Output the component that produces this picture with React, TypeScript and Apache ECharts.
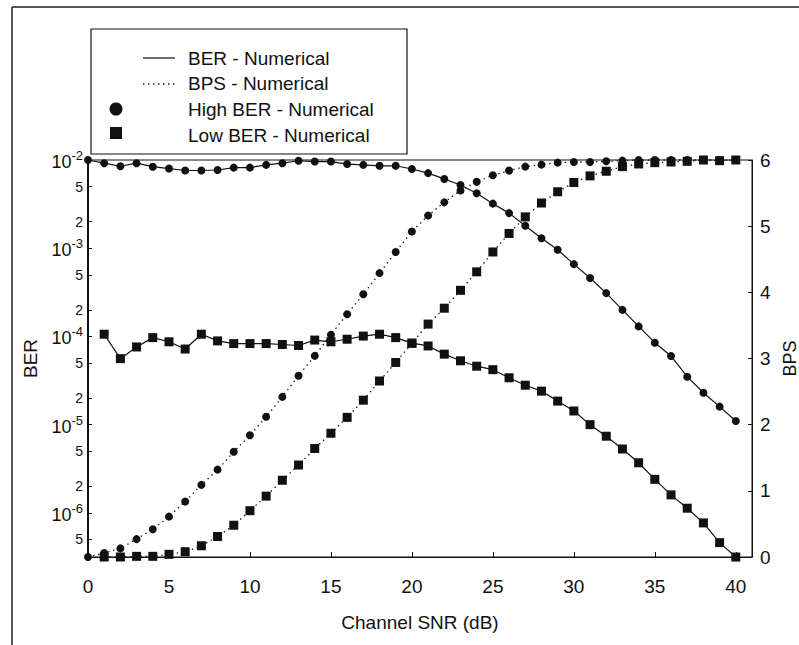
import { useEffect, useRef } from "react";
import * as echarts from "echarts";

// Channel SNR (dB)
const snrHigh = [0, 1, 2, 3, 4, 5, 6, 7, 8, 9, 10, 11, 12, 13, 14, 15, 16, 17, 18, 19, 20, 21, 22, 23, 24, 25, 26, 27, 28, 29, 30, 31, 32, 33, 34, 35, 36, 37, 38, 39, 40];
const snrLow = [1, 2, 3, 4, 5, 6, 7, 8, 9, 10, 11, 12, 13, 14, 15, 16, 17, 18, 19, 20, 21, 22, 23, 24, 25, 26, 27, 28, 29, 30, 31, 32, 33, 34, 35, 36, 37, 38, 39, 40];

// BER, High BER target (circles, solid)
const highBer = [
  1.0e-2, 9.2e-3, 8.5e-3, 9.2e-3, 8.4e-3, 8.0e-3, 7.6e-3, 7.6e-3, 7.7e-3, 8.2e-3,
  8.2e-3, 8.8e-3, 9.2e-3, 9.8e-3, 9.6e-3, 9.6e-3, 9.0e-3, 8.8e-3, 8.6e-3, 8.6e-3,
  7.9e-3, 7.1e-3, 6.1e-3, 5.2e-3, 4.2e-3, 3.2e-3, 2.5e-3, 1.8e-3, 1.3e-3, 9.6e-4,
  6.6e-4, 4.6e-4, 3.1e-4, 2.0e-4, 1.3e-4, 8.5e-5, 6.0e-5, 3.5e-5, 2.3e-5, 1.6e-5,
  1.1e-5,
];
// BER, Low BER target (squares, solid)
const lowBer = [
  1.06e-4, 5.6e-5, 7.6e-5, 9.7e-5, 8.7e-5, 7.2e-5, 1.06e-4, 8.9e-5, 8.3e-5, 8.3e-5,
  8.3e-5, 8.1e-5, 7.9e-5, 9.1e-5, 8.7e-5, 9.3e-5, 1.01e-4, 1.06e-4, 9.7e-5, 8.4e-5,
  7.8e-5, 6.3e-5, 5.3e-5, 4.6e-5, 4.2e-5, 3.4e-5, 2.8e-5, 2.4e-5, 1.85e-5, 1.43e-5,
  1.0e-5, 7.4e-6, 5.3e-6, 3.7e-6, 2.4e-6, 1.6e-6, 1.13e-6, 7.7e-7, 4.6e-7, 3.16e-7,
];
// BPS, High BER target (circles, dotted)
const highBps = [
  0, 0.06, 0.13, 0.27, 0.42, 0.61, 0.84, 1.09, 1.32, 1.59,
  1.84, 2.12, 2.42, 2.74, 3.04, 3.36, 3.67, 3.97, 4.29, 4.61,
  4.92, 5.16, 5.36, 5.54, 5.67, 5.77, 5.84, 5.9, 5.93, 5.96,
  5.97, 5.97, 5.98, 5.99, 6, 6, 6, 6, 6, 6, 6,
];
// BPS, Low BER target (squares, dotted)
const lowBps = [
  0, 0, 0.01, 0.01, 0.04, 0.08, 0.17, 0.31, 0.48, 0.7,
  0.92, 1.16, 1.39, 1.64, 1.87, 2.11, 2.37, 2.66, 2.94, 3.23,
  3.52, 3.76, 4.03, 4.31, 4.61, 4.89, 5.14, 5.35, 5.52, 5.66,
  5.76, 5.83, 5.9, 5.94, 5.96, 5.97, 5.98, 6.0, 5.99, 6.0,
];

const xTickValues = [0, 5, 10, 15, 20, 25, 30, 35, 40];
const berDecades = [-2, -3, -4, -5, -6];
const berMantissas = [5, 2];
const legendLabels = ["BER - Numerical", "BPS - Numerical", "High BER - Numerical", "Low BER - Numerical"];

const FONT = "'Liberation Sans', Arial, sans-serif";
const INK = "#111";

function berTickValues(): number[] {
  const vals: number[] = [];
  for (const d of berDecades) {
    vals.push(d);
    for (const m of berMantissas) {
      const v = d - 1 + Math.log10(m);
      if (v >= -6.5) vals.push(v);
    }
  }
  return vals;
}

function berLabel(v: number): string {
  const r = Math.round(v);
  if (Math.abs(v - r) < 1e-6) return "{b|10}{s|" + r + "}";
  const f = Math.floor(v);
  return "{m|" + Math.round(Math.pow(10, v - f)) + "}";
}

export default function App() {
  const ref = useRef<HTMLDivElement>(null);

  useEffect(() => {
    if (!ref.current) return;
    const chart = echarts.init(ref.current, null, { renderer: "svg" });
    const berTicks = berTickValues();

    const lineStyleSolid = { color: INK, width: 1.2, type: "solid" as const };
    const lineStyleDot = { color: INK, width: 1.3, type: [1.4, 3.8] as any };

    const option: any = {
      animation: false,
      backgroundColor: "#fff",
      textStyle: { fontFamily: FONT, color: INK },
      grid: {
        left: 88,
        top: 160,
        right: 47,
        bottom: 88,
        outerBoundsMode: "none",
        show: true,
        borderColor: INK,
        borderWidth: 1,
        backgroundColor: "transparent",
      },
      xAxis: {
        type: "value",
        min: 0,
        max: 41,
        name: "Channel SNR (dB)",
        nameLocation: "middle",
        nameGap: 56,
        nameTextStyle: { fontSize: 19, color: INK, fontFamily: FONT },
        axisLine: { show: true, onZero: false, lineStyle: { color: INK, width: 1 } },
        axisTick: { show: true, inside: true, length: 5, customValues: xTickValues, lineStyle: { color: INK } },
        axisLabel: { customValues: xTickValues, fontSize: 19, color: INK, margin: 20, fontFamily: FONT },
        splitLine: { show: false },
      },
      yAxis: [
        {
          type: "value",
          position: "left",
          min: -6.5,
          max: -2,
          name: "BER",
          nameLocation: "middle",
          nameRotate: 90,
          nameGap: 48,
          nameTextStyle: { fontSize: 19, color: INK, fontFamily: FONT },
          axisLine: { show: true, lineStyle: { color: INK, width: 2 } },
          axisTick: { show: true, inside: true, length: 4, customValues: berTicks, lineStyle: { color: INK } },
          axisLabel: {
            customValues: berTicks,
            margin: 5,
            formatter: (v: number) => berLabel(v),
            rich: {
              b: { fontSize: 18, color: INK, fontFamily: FONT, verticalAlign: "bottom", lineHeight: 22 },
              s: { fontSize: 13, color: INK, fontFamily: FONT, verticalAlign: "top", lineHeight: 14 },
              m: { fontSize: 14, color: INK, fontFamily: FONT },
            },
          },
          splitLine: { show: false },
        },
        {
          type: "value",
          position: "right",
          min: 0,
          max: 6,
          interval: 1,
          name: "BPS",
          nameLocation: "middle",
          nameRotate: 90,
          nameGap: 13,
          nameTextStyle: { fontSize: 18, color: INK, fontFamily: FONT },
          axisLine: { show: true, lineStyle: { color: INK, width: 1 } },
          axisTick: { show: true, inside: true, length: 4, lineStyle: { color: INK } },
          axisLabel: { fontSize: 19, color: INK, margin: 8, fontFamily: FONT },
          splitLine: { show: false },
        },
      ],
      series: [
        {
          name: "High BER - BER",
          type: "line",
          yAxisIndex: 0,
          clip: false,
          data: highBer.map((v, i) => [snrHigh[i], Math.log10(v)]),
          symbol: "circle",
          symbolSize: 8,
          itemStyle: { color: INK },
          lineStyle: lineStyleSolid,
          z: 3,
        },
        {
          name: "Low BER - BER",
          type: "line",
          yAxisIndex: 0,
          clip: false,
          data: lowBer.map((v, i) => [snrLow[i], Math.log10(v)]),
          symbol: "rect",
          symbolSize: 9,
          itemStyle: { color: INK },
          lineStyle: lineStyleSolid,
          z: 3,
        },
        {
          name: "High BER - BPS",
          type: "line",
          yAxisIndex: 1,
          clip: false,
          data: highBps.map((v, i) => [snrHigh[i], v]),
          symbol: "circle",
          symbolSize: 8,
          itemStyle: { color: INK },
          lineStyle: lineStyleDot,
          z: 3,
        },
        {
          name: "Low BER - BPS",
          type: "line",
          yAxisIndex: 1,
          clip: false,
          data: lowBps.map((v, i) => [snrLow[i], v]),
          symbol: "rect",
          symbolSize: 9,
          itemStyle: { color: INK },
          lineStyle: lineStyleDot,
          z: 3,
        },
      ],
      graphic: [
        // outer figure frame
        { type: "line", shape: { x1: 12, y1: 7, x2: 799, y2: 7 }, style: { stroke: "#222", lineWidth: 1.5 }, silent: true },
        { type: "line", shape: { x1: 12, y1: 7, x2: 12, y2: 645 }, style: { stroke: "#222", lineWidth: 1.5 }, silent: true },
        // legend box
        { type: "rect", shape: { x: 91, y: 29, width: 316, height: 125 }, style: { fill: "#fff", stroke: INK, lineWidth: 1.2 }, z: 10, silent: true },
        { type: "line", shape: { x1: 143, y1: 58, x2: 175, y2: 58 }, style: { stroke: INK, lineWidth: 1.2 }, z: 11, silent: true },
        { type: "line", shape: { x1: 143, y1: 84, x2: 175, y2: 84 }, style: { stroke: INK, lineWidth: 1.3, lineDash: [1.4, 3.6] }, z: 11, silent: true },
        { type: "circle", shape: { cx: 116, cy: 109, r: 6.5 }, style: { fill: INK }, z: 11, silent: true },
        { type: "rect", shape: { x: 110, y: 127, width: 12, height: 12 }, style: { fill: INK }, z: 11, silent: true },
        ...legendLabels.map((t, i) => ({
          type: "text",
          x: 188,
          y: 58 + i * 25.7,
          z: 11,
          silent: true,
          style: { text: t, fill: INK, font: `19px ${FONT}`, textVerticalAlign: "middle", verticalAlign: "middle" },
        })),
      ],
    };

    chart.setOption(option);
    return () => chart.dispose();
  }, []);

  return <div ref={ref} style={{ width: 799, height: 645, position: "absolute", left: 0, top: 0 }} />;
}
